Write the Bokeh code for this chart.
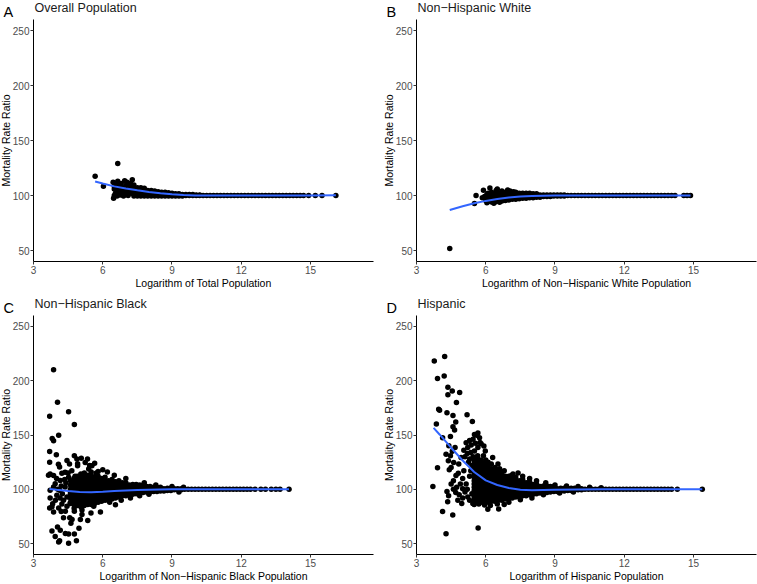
from bokeh.plotting import figure
from bokeh.layouts import column, row
from bokeh.models import Range1d, FixedTicker
from bokeh.core.properties import value
from bokeh.embed import file_html
from bokeh.resources import INLINE

FONT = "Liberation Sans"
X_TICKS = [3, 6, 9, 12, 15]
Y_TICKS = [50, 100, 150, 200, 250]
X_LIMITS = (3, 17.73)
Y_LIMITS = (40, 260)

PANEL_LETTERS = ["A", "B", "C", "D"]
PANEL_TITLES = ["Overall Population", "Non\u2212Hispanic White",
                "Non\u2212Hispanic Black", "Hispanic"]
X_LABELS = ["Logarithm of Total Population",
            "Logarithm of Non\u2212Hispanic White Population",
            "Logarithm of Non\u2212Hispanic Black Population",
            "Logarithm of Hispanic Population"]
Y_LABEL = "Mortality Rate Ratio"

# ---------------- Panel A: overall population ----------------
A_points = [(5.67, 117.5), (6.03, 108.5), (6.65, 129.2), (6.47, 97.6), (6.45, 112), (6.5, 106),
            (6.55, 102), (6.6, 109.5), (6.65, 113), (6.7, 104), (6.75, 100.5), (6.8, 111),
            (6.85, 107), (6.9, 102.5), (6.95, 113.5), (7.0, 109), (7.05, 104.5), (7.1, 100),
            (7.15, 106.5), (7.2, 111), (7.25, 102), (7.28, 114.3), (7.3, 108), (6.5, 100),
            (6.62, 99.5), (6.9, 99.5), (7.0, 101), (7.2, 104.5), (6.5, 108.5), (6.7, 107),
            (6.75, 110.5), (6.95, 105), (7.1, 108), (7.15, 103), (6.8, 104.5), (6.6, 105.5),
            (7.25, 105), (7.05, 112), (14.92, 100), (15.21, 100), (15.5, 100), (16.1, 100)]
A_cols = [(7.35, [99.5, 102, 104.5, 107, 109.5]), (7.5, [99.5, 102, 104.5, 107]),
          (7.65, [99.5, 102, 104.5, 107]), (7.8, [99.5, 102, 104.5, 106.5]),
          (7.95, [99.5, 102, 104.5]), (8.1, [99.5, 102, 104.5]), (8.25, [99.5, 101.5, 104]),
          (8.4, [99.5, 101.5, 103.5]), (8.55, [99.5, 101.5, 103]), (8.7, [99.5, 101.5, 103]),
          (8.85, [99.5, 101.5, 102.5]), (9.0, [99.5, 101.5, 102]), (9.15, [99.5, 101.5]),
          (9.3, [99.5, 101.5]), (9.45, [99.5, 101]), (9.6, [100, 101]), (9.75, [100, 101]),
          (9.9, [100, 100.8]), (10.05, [100, 100.5]), (10.2, [100, 100.5])]
A_ratio100_x = [10.35, 10.5, 10.65, 10.8, 10.95, 11.1, 11.25, 11.4, 11.55, 11.7, 11.85, 12.0,
                12.15, 12.3, 12.45, 12.6, 12.75, 12.9, 13.05, 13.2, 13.35, 13.5, 13.65, 13.8,
                13.95, 14.1, 14.25, 14.4, 14.55, 14.7]
A_smooth_x = [5.67, 6.0, 6.5, 7.0, 7.5, 8.0, 8.5, 9.0, 9.5, 10.0, 11.0, 12.0, 13.0, 14.0, 15.0, 16.1]
A_smooth_y = [112.8, 110.9, 108.3, 106.3, 104.7, 103.2, 102.0, 101.1, 100.5, 100.1, 99.9, 99.9,
              100.0, 100.0, 100.1, 100.2]

# ---------------- Panel B: non-Hispanic White ----------------
B_points = [(4.44, 51.8), (5.51, 92.8), (5.58, 100), (5.9, 104.8), (5.95, 99), (6.0, 95.5),
            (6.18, 106.9), (6.5, 106), (6.05, 93.5), (6.35, 93), (6.45, 104.5), (6.7, 104),
            (6.95, 105), (7.05, 104), (7.2, 103.5), (6.25, 103), (6.6, 93.8), (6.05, 101),
            (5.85, 98), (14.58, 100), (14.72, 100), (14.87, 100)]
B_cols = [(6.1, [94.5, 97, 99.5, 102]), (6.25, [94, 96.5, 99, 101.5]), (6.4, [94, 96.5, 99, 101.5]),
          (6.55, [95, 97.5, 100, 102.5]), (6.7, [95, 97.5, 100, 102.5]),
          (6.85, [95.5, 98, 100.5, 103]), (7.0, [96, 98.5, 101, 103]), (7.15, [96.5, 99, 101.5]),
          (7.3, [96.5, 99, 101.5, 103]), (7.45, [97, 99.5, 102]), (7.6, [97.5, 100, 102]),
          (7.75, [97.5, 100, 102]), (7.9, [98, 100.5, 102]), (8.05, [98, 100.5, 101.5]),
          (8.2, [98.5, 100.5, 101.5]), (8.35, [98.5, 100.5]), (8.5, [99, 100.5]),
          (8.65, [99, 100.5]), (8.8, [99, 100.5]), (8.95, [99.5, 100.5]), (9.1, [99.5, 100.5]),
          (9.25, [99.5, 100.5]), (9.4, [99.5, 100.5])]
B_ratio100_x = [9.55, 9.7, 9.85, 10.0, 10.15, 10.3, 10.45, 10.6, 10.75, 10.9, 11.05, 11.2, 11.35,
                11.5, 11.65, 11.8, 11.95, 12.1, 12.25, 12.4, 12.55, 12.7, 12.85, 13.0, 13.15,
                13.3, 13.45, 13.6, 13.75, 13.9, 14.05, 14.2]
B_smooth_x = [4.44, 5.0, 5.5, 6.0, 6.5, 7.0, 7.5, 8.0, 9.0, 10.0, 11.0, 12.0, 13.0, 14.0, 14.87]
B_smooth_y = [86.8, 90.2, 92.9, 95.1, 96.9, 98.2, 99.0, 99.5, 99.9, 100, 100, 100, 100, 100, 100]

# ---------------- Panel C: non-Hispanic Black ----------------
C_points = [(3.87, 210), (4.04, 180.1), (3.70, 167.2), (4.52, 171.4), (4.77, 159.6), (4.09, 149.7),
            (3.81, 146.7), (3.87, 144.6), (3.70, 134.9), (3.99, 131.9), (3.70, 125), (3.65, 113),
            (4.77, 131), (5.07, 128.6), (4.45, 126.5), (4.13, 120.5), (5.43, 122), (5.72, 115.1),
            (4.91, 123.5), (3.72, 114), (3.87, 112.7), (4.08, 123), (4.23, 114.8), (3.94, 105.1),
            (4.13, 99.1), (4.37, 102.1), (4.52, 111.2), (4.66, 117.2), (4.81, 106.6), (4.45, 93),
            (4.59, 87), (4.3, 90), (4.01, 94.6), (3.8, 84), (4.2, 79.5), (4.88, 96), (5.0, 90),
            (4.76, 82.5), (5.1, 81), (3.72, 99.1), (3.87, 102.1), (4.16, 108.2), (4.37, 115.7),
            (4.56, 123.2), (4.88, 127.8), (4.91, 121.7), (5.24, 124.8), (5.34, 127.8),
            (5.53, 121.7), (5.39, 118.7), (5.65, 123.9), (3.8, 61.7), (3.94, 56.6), (4.09, 51.5),
            (4.13, 52.7), (4.52, 50.3), (4.86, 52.7), (4.97, 64.2), (4.04, 65.4), (4.16, 62.4),
            (4.38, 59.4), (4.52, 58.8), (4.77, 58.8), (4.67, 72.3), (4.62, 68.7), (5.03, 72.3),
            (5.35, 71.4), (5.1, 76.8), (4.3, 73.8), (3.72, 91.9), (3.83, 86.7), (3.7, 82.8),
            (3.87, 79.2), (4.23, 86.4), (4.09, 82.8), (4.38, 79.8), (4.45, 84.3), (4.77, 79.8),
            (4.86, 85.8), (4.57, 73.8), (5.49, 78.3), (5.9, 79.2), (5.61, 84.3), (6.55, 85.8),
            (5.25, 87.4), (4.25, 96), (4.4, 106), (4.6, 98), (4.7, 103), (4.2, 103), (4.5, 115),
            (4.0, 110), (3.95, 90), (4.15, 92), (4.65, 92), (4.8, 112), (4.35, 109), (4.05, 100),
            (6.2, 116), (6.5, 113), (7.0, 110), (6.0, 118), (5.8, 116.5), (6.8, 90), (7.2, 92),
            (6.3, 88), (7.6, 94), (8.0, 95.5), (8.3, 104), (7.8, 106), (9.0, 102.5), (9.5, 102),
            (9.3, 97.5), (12.6, 100), (12.85, 100), (13.05, 100), (13.3, 100), (13.5, 100),
            (13.68, 100), (14.07, 100)]
C_cols = [(4.6, [88, 92, 96, 100, 104, 108]), (4.75, [86, 90, 94, 98, 102, 106, 110]),
          (4.9, [85, 88, 91, 94, 97, 100, 103, 106, 109, 112]),
          (5.05, [84, 87, 90, 93, 96, 99, 102, 105, 108, 111, 114]),
          (5.2, [85, 88, 91, 94, 97, 100, 103, 106, 109, 112, 115]),
          (5.35, [86, 89, 92, 95, 98, 101, 104, 107, 110, 113]),
          (5.5, [86, 89, 92, 95, 98, 101, 104, 107, 110, 113, 116]),
          (5.65, [87, 90, 93, 96, 99, 102, 105, 108, 111]),
          (5.8, [88, 91, 94, 97, 100, 103, 106, 109, 112]),
          (5.95, [89, 92, 95, 98, 101, 104, 107, 110]),
          (6.1, [90, 93, 96, 99, 102, 105, 108, 111]), (6.25, [90, 93, 96, 99, 102, 105, 108]),
          (6.4, [91, 94, 97, 100, 103, 106, 109]), (6.55, [92, 95, 98, 101, 104, 107]),
          (6.7, [93, 96, 99, 102, 105, 108]), (6.85, [94, 97, 100, 103, 106]),
          (7.0, [94, 97, 100, 103, 106]), (7.15, [95, 98, 101, 104]),
          (7.3, [95.5, 98.5, 101.5, 104.5]), (7.45, [96, 99, 102, 104.5]),
          (7.6, [96.5, 99, 101.5, 104]), (7.75, [97, 99.5, 102, 104]), (7.9, [97.5, 100, 102.5]),
          (8.05, [97.5, 100, 102.5]), (8.2, [98, 100, 102]), (8.35, [98, 100, 102]),
          (8.5, [98.5, 100.5, 102]), (8.65, [98.5, 100.5]), (8.8, [99, 101]), (8.95, [99, 101]),
          (9.1, [99.5, 100.5]), (9.25, [99.5, 100.5]), (9.4, [99.5, 100.5])]
C_ratio100_x = [9.55, 9.7, 9.85, 10.0, 10.15, 10.3, 10.45, 10.6, 10.75, 10.9, 11.05, 11.2, 11.35,
                11.5, 11.65, 11.8, 11.95, 12.1, 12.25, 12.4]
C_smooth_x = [3.69, 4.0, 4.5, 5.0, 5.5, 6.0, 6.5, 7.0, 7.5, 8.0, 9.0, 10.0, 11.0, 12.0, 13.0, 14.07]
C_smooth_y = [100.3, 99.6, 98.5, 97.6, 97.4, 97.8, 98.5, 98.9, 99.3, 99.6, 100.0, 100.1, 100.1,
              100.1, 100.1, 100.1]

# ---------------- Panel D: Hispanic ----------------
D_points = [(3.77, 218.1), (4.22, 222.3), (3.91, 202.1), (4.2, 204.2), (4.36, 193.9), (4.55, 190.6),
            (4.87, 189.1), (4.36, 187), (4.73, 180), (4.0, 172.8), (4.32, 170.4), (4.58, 168),
            (5.19, 168.6), (5.42, 162.5), (4.7, 161.9), (4.58, 157.7), (4.65, 154.7),
            (4.47, 148.6), (5.6, 149.8), (4.13, 147.4), (3.86, 160.1), (3.96, 173.7),
            (3.71, 102.7), (3.91, 119.9), (4.4, 140), (4.67, 138.4), (4.28, 132.3), (4.47, 130.8),
            (4.38, 126.3), (4.61, 124.8), (4.83, 123.3), (4.93, 129.3), (4.81, 114.8),
            (5.05, 117.2), (4.71, 112.7), (4.55, 135), (4.5, 120), (4.6, 108), (4.9, 105),
            (4.42, 118), (5.15, 142.9), (5.22, 138.4), (5.37, 140.8), (5.51, 135.3), (5.66, 138.4),
            (5.51, 150.4), (5.66, 151.9), (5.73, 147.4), (5.8, 142), (5.92, 139.9), (5.98, 135.3),
            (6.3, 129.3), (6.24, 123.3), (6.53, 123.3), (6.67, 115.7), (7.11, 112.7),
            (7.18, 114.2), (5.1, 130), (5.2, 133), (5.3, 128), (5.35, 134), (5.45, 130),
            (5.25, 125), (5.4, 122), (5.05, 136), (5.3, 145), (5.45, 146), (5.75, 143),
            (5.55, 142.5), (5.9, 131), (6.0, 127), (6.1, 125), (6.4, 120), (6.6, 119), (6.8, 117),
            (4.13, 79.5), (4.57, 76.4), (4.28, 59.2), (5.67, 64.4), (4.79, 90), (4.35, 88.5),
            (4.32, 97.9), (4.39, 94), (4.74, 102), (4.96, 87), (5.1, 97.6), (5.22, 93), (5.44, 87),
            (6.09, 81.6), (6.56, 81.9), (5.95, 85.5), (4.6, 100), (4.85, 95), (5.0, 92), (5.3, 90),
            (5.5, 86), (5.7, 86.5), (6.2, 85), (6.8, 86), (4.5, 105), (4.7, 97), (5.0, 110),
            (5.15, 105), (5.3, 112), (5.2, 100), (5.4, 96), (5.35, 117), (5.0, 100.5),
            (7.4, 115), (7.6, 112), (7.9, 110), (8.2, 108), (8.6, 106), (8.0, 92), (7.5, 90.5),
            (7.0, 88), (6.5, 86.5), (8.5, 95), (9.0, 104), (9.5, 103), (10.0, 102.5), (10.5, 102),
            (11.0, 101.5), (9.2, 96.5), (9.8, 97.5), (14.3, 100), (15.38, 100)]
D_cols = [(5.5, [90, 93, 96, 99, 102, 105, 108, 111, 114, 117, 120, 123, 126, 129]),
          (5.65, [89, 92, 95, 98, 101, 104, 107, 110, 113, 116, 119, 122, 125, 128, 131]),
          (5.8, [88, 91, 94, 97, 100, 103, 106, 109, 112, 115, 118, 121, 124, 127]),
          (5.95, [88, 91, 94, 97, 100, 103, 106, 109, 112, 115, 118, 121, 124]),
          (6.1, [88, 91, 94, 97, 100, 103, 106, 109, 112, 115, 118, 121]),
          (6.25, [89, 92, 95, 98, 101, 104, 107, 110, 113, 116, 119]),
          (6.4, [89, 92, 95, 98, 101, 104, 107, 110, 113, 116, 119]),
          (6.55, [90, 93, 96, 99, 102, 105, 108, 111, 114, 117]),
          (6.7, [90, 93, 96, 99, 102, 105, 108, 111, 114]),
          (6.85, [91, 94, 97, 100, 103, 106, 109, 112]),
          (7.0, [91, 94, 97, 100, 103, 106, 109, 112]),
          (7.15, [92, 95, 98, 101, 104, 107, 110]), (7.3, [93, 96, 99, 102, 105, 108, 111]),
          (7.45, [93, 96, 99, 102, 105, 108]), (7.6, [94, 97, 100, 103, 106, 109]),
          (7.75, [94, 97, 100, 103, 106]), (7.9, [95, 98, 101, 104, 107]),
          (8.05, [95.5, 98.5, 101.5, 104.5]), (8.2, [96, 99, 102, 105]),
          (8.35, [96.5, 99.5, 102.5]), (8.5, [97, 100, 103]), (8.65, [97, 100, 103]),
          (8.8, [97.5, 100, 102.5]), (8.95, [98, 100.5, 102.5]), (9.1, [98, 100.5]),
          (9.25, [98.5, 101]), (9.4, [98.5, 101]), (9.55, [99, 101]), (9.7, [99, 101]),
          (9.85, [99.5, 101]), (10.0, [99.5, 100.5]), (10.15, [99.5, 100.5])]
D_ratio100_x = [10.3, 10.45, 10.6, 10.75, 10.9, 11.05, 11.2, 11.35, 11.5, 11.65, 11.8, 11.95, 12.1,
                12.25, 12.4, 12.55, 12.7, 12.85, 13.0, 13.15, 13.3, 13.45, 13.6, 13.75, 13.9, 14.05]
D_smooth_x = [3.74, 4.0, 4.5, 5.0, 5.5, 6.0, 6.5, 7.0, 7.5, 8.0, 9.0, 10.0, 11.0, 12.0, 13.0, 14.0,
              15.38]
D_smooth_y = [156.5, 150.5, 138.3, 126.5, 116.0, 108.2, 104.0, 101.3, 99.6, 99.2, 99.5, 99.8, 100,
              100, 100, 100, 100]


def expand(points, cols, ratio100_x):
    xs = [pt[0] for pt in points]
    ys = [pt[1] for pt in points]
    for x, col in cols:
        xs += [x] * len(col)
        ys += list(col)
    xs += list(ratio100_x)
    ys += [100] * len(ratio100_x)
    return xs, ys


def make_header(i, width, height):
    # strip above a panel holding its letter and title (pixel-sized ranges)
    h = figure(width=width, height=height, x_range=Range1d(0, width), y_range=Range1d(0, height),
               output_backend="svg", toolbar_location=None, tools="", min_border=0,
               x_axis_type=None, y_axis_type=None)
    h.outline_line_color = None
    h.grid.visible = False
    h.text(x=[8], y=[7.6], text=[PANEL_LETTERS[i]], text_font=value(FONT),
           text_font_size=value("14.5px"), text_font_style=value("normal"), text_color="black",
           text_baseline=value("middle"), text_align=value("left"))
    h.text(x=[39], y=[11.3], text=[PANEL_TITLES[i]], text_font=value(FONT),
           text_font_size=value("12.5px"), text_font_style=value("normal"), text_color="#1A1A1A",
           text_baseline=value("middle"), text_align=value("left"))
    return h


def make_panel(i, pts, cols, r100, smx, smy, width, height, bl, br, bb):
    p = figure(width=width, height=height, x_range=Range1d(*X_LIMITS), y_range=Range1d(*Y_LIMITS),
               output_backend="svg", toolbar_location=None, tools="",
               min_border_left=bl, min_border_right=br, min_border_top=0, min_border_bottom=bb)
    p.outline_line_color = None
    p.grid.visible = False
    p.background_fill_color = "white"
    p.border_fill_color = "white"
    xs, ys = expand(pts, cols, r100)
    p.scatter(xs, ys, size=5.5, fill_color="black", line_color=None)
    p.line(smx, smy, line_color="#3366FF", line_width=2)
    for ax in (p.xaxis[0], p.yaxis[0]):
        ax.axis_line_color = "black"
        ax.axis_line_width = 1
        ax.major_tick_line_color = "#333333"
        ax.major_tick_out = 3
        ax.major_tick_in = 0
        ax.minor_tick_out = 0
        ax.minor_tick_in = 0
        ax.major_label_text_font = FONT
        ax.major_label_text_font_size = "10px"
        ax.major_label_text_color = "#4D4D4D"
        ax.axis_label_text_font = FONT
        ax.axis_label_text_font_size = "10.5px"
        ax.axis_label_text_color = "black"
        ax.axis_label_text_font_style = "normal"
        ax.axis_label_text_line_height = 1.0
        ax.major_label_standoff = 1
        ax.axis_label_standoff = 0
    p.yaxis[0].axis_label_standoff = -2
    p.xaxis.ticker = FixedTicker(ticks=X_TICKS)
    p.yaxis.ticker = FixedTicker(ticks=Y_TICKS)
    p.xaxis.axis_label = X_LABELS[i]
    p.yaxis.axis_label = Y_LABEL
    return p


# left column figures are 5px wider and shifted left by the layout margin
hA = make_header(0, 383, 19)
hB = make_header(1, 379, 19)
pA = make_panel(0, A_points, A_cols, A_ratio100_x, A_smooth_x, A_smooth_y, 383, 273, 38, 5, 31)
pB = make_panel(1, B_points, B_cols, B_ratio100_x, B_smooth_x, B_smooth_y, 379, 273, 38, 1, 31)
hC = make_header(2, 383, 23)
hD = make_header(3, 379, 23)
pC = make_panel(2, C_points, C_cols, C_ratio100_x, C_smooth_x, C_smooth_y, 383, 269, 38, 5, 27)
pD = make_panel(3, D_points, D_cols, D_ratio100_x, D_smooth_x, D_smooth_y, 379, 269, 38, 1, 27)

layout = column(row(hA, hB), row(pA, pB), row(hC, hD), row(pC, pD))
layout.margin = (0, 0, 0, -5)

open("out.html", "w").write(file_html(layout, INLINE))
